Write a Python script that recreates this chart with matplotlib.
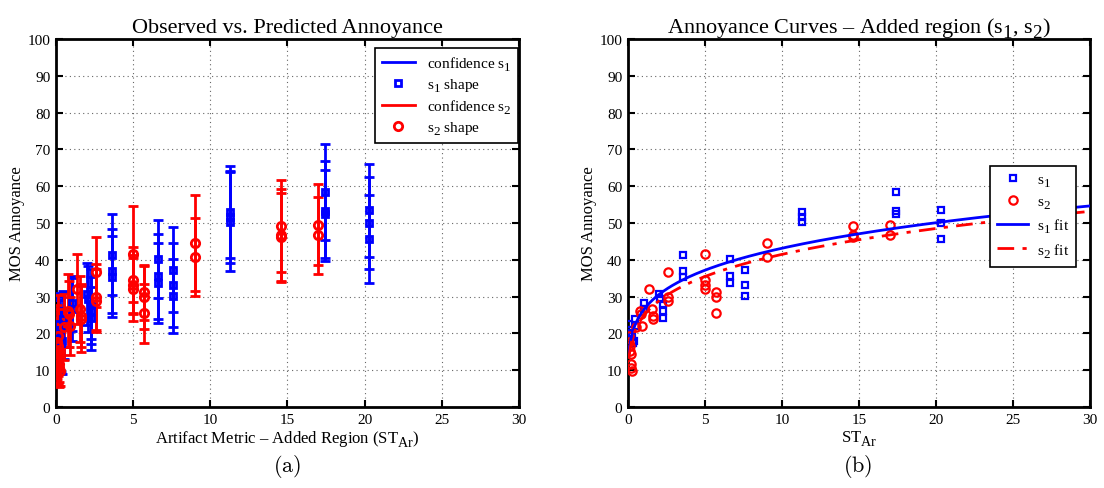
import numpy as np
import matplotlib
matplotlib.use("Agg")
import matplotlib.pyplot as plt
from matplotlib.lines import Line2D
try:
    import matplotlib._mathtext as _mt
    _mt.SHRINK_FACTOR = 0.85
    _mt.FontConstantsBase.sub1 = 0.55
    _mt.FontConstantsBase.sub2 = 0.6
except Exception:
    pass

plt.rcParams['font.family'] = ['Liberation Serif', 'DejaVu Serif']
plt.rcParams['mathtext.fontset'] = 'custom'
plt.rcParams['mathtext.rm'] = 'Liberation Serif'
plt.rcParams['mathtext.it'] = 'Liberation Serif:italic'

# ---- data ----
s1_x = [0.10, 0.13, 0.18, 0.25, 0.30, 0.40, 0.45, 0.50, 1.04, 1.04, 2.00, 2.05, 2.30, 2.30, 2.30,
        3.60, 3.60, 3.60, 6.60, 6.60, 6.60, 7.60, 7.60, 7.60, 11.3, 11.3, 11.3,
        17.4, 17.4, 17.4, 20.3, 20.3, 20.3]
s1_y = [22.5, 21.0, 20.0, 19.5, 17.5, 18.0, 23.9, 22.0, 28.2, 26.5, 30.7, 29.3, 28.0, 26.2, 24.1,
        41.4, 37.0, 35.4, 40.2, 35.5, 33.7, 37.3, 33.2, 30.2, 53.1, 51.5, 50.4,
        58.4, 53.3, 52.4, 53.4, 50.0, 45.6]
s1_err = [8.5, 9, 9, 9.5, 8, 9, 7.5, 9, 7.5, 8.5, 8.5, 9, 9.5, 9, 8.5,
          11, 11.5, 11, 10.5, 11.5, 11, 11.5, 11.5, 10, 12.5, 12.5, 13.5,
          13, 13.5, 12, 12.5, 12.5, 12]

s2_x = [0.08, 0.10, 0.12, 0.15, 0.18, 0.20, 0.22, 0.25, 0.50, 0.80, 0.85, 0.90,
        1.36, 1.55, 1.60, 1.65, 2.60, 2.60, 2.60, 5.0, 5.0, 5.0, 5.0, 5.7, 5.7, 5.7,
        9.0, 9.0, 14.6, 14.6, 14.6, 17.0, 17.0]
s2_y = [17.7, 19.4, 16.6, 15.2, 14.4, 11.7, 10.6, 9.8, 21.7, 26.2, 25.3, 22.0,
        32.1, 26.6, 24.8, 23.9, 36.6, 29.8, 28.9, 41.5, 34.5, 33.2, 32.0, 31.2, 29.8, 25.5,
        44.6, 40.8, 49.1, 46.8, 46.1, 49.5, 46.7]
s2_err = [10, 11, 10, 9, 9, 5, 5, 4, 9, 10, 9, 8,
          9.5, 9, 8.5, 9, 9.5, 9, 8.5, 13, 9, 8, 8.5, 7.5, 8.5, 8,
          13, 10.5, 12.5, 12.5, 12, 11, 10.5]

# power-law fit parameters y = a * x^b
s1_fit_a, s1_fit_b = 26.3, 0.215
s2_fit_a, s2_fit_b = 24.65, 0.226

x_ticks = [0, 5, 10, 15, 20, 25, 30]
y_ticks = [0, 10, 20, 30, 40, 50, 60, 70, 80, 90, 100]

BLUE = '#0000ff'
RED = '#ff0000'

fig = plt.figure(figsize=(11.04, 4.89), dpi=100)
axL = fig.add_axes([0.0507, 0.1656, 0.4194, 0.7526])
axR = fig.add_axes([0.5688, 0.1656, 0.4185, 0.7526])


def style(ax):
    ax.set_xlim(0, 30)
    ax.set_ylim(0, 100)
    ax.set_xticks(x_ticks)
    ax.set_yticks(y_ticks)
    ax.grid(True, color='#666666', linestyle=(0, (1, 3)), linewidth=0.8)
    ax.set_axisbelow(True)
    ax.tick_params(direction='in', top=True, right=True, length=5, width=1.5,
                   labelsize=11, pad=4)
    for sp in ax.spines.values():
        sp.set_linewidth(2)
    ax.set_ylabel('MOS Annoyance', fontsize=12, labelpad=2)


# ---- left panel ----
style(axL)
axL.errorbar(s1_x, s1_y, yerr=s1_err, fmt='s', color=BLUE, ecolor=BLUE,
             elinewidth=2, capsize=3.5, capthick=2, markersize=5,
             markerfacecolor='none', markeredgewidth=2.0, zorder=3)
axL.errorbar(s2_x, s2_y, yerr=s2_err, fmt='o', color=RED, ecolor=RED,
             elinewidth=2, capsize=3.5, capthick=2, markersize=6,
             markerfacecolor='none', markeredgewidth=2.0, zorder=3)
axL.set_title('Observed vs. Predicted Annoyance', fontsize=16, pad=5)
axL.set_xlabel(r'Artifact Metric – Added Region (ST$_{\mathrm{Ar}}$)', fontsize=12, labelpad=2)
hL = [Line2D([], [], color=BLUE, lw=2),
      Line2D([], [], color=BLUE, marker='s', ls='none', markersize=5, mfc='none', mew=2),
      Line2D([], [], color=RED, lw=2),
      Line2D([], [], color=RED, marker='o', ls='none', markersize=6, mfc='none', mew=2)]
legL = axL.legend(hL, [r'confidence s$_{\mathrm{1}}$', r's$_{\mathrm{1}}$ shape',
                       r'confidence s$_{\mathrm{2}}$', r's$_{\mathrm{2}}$ shape'],
                  loc='upper right', bbox_to_anchor=(0.998, 0.975), fontsize=11,
                  frameon=True, fancybox=False, edgecolor='black', framealpha=1,
                  borderaxespad=0, handlelength=2.2, labelspacing=0.2, borderpad=0.4)
legL.get_frame().set_linewidth(1.2)
fig.text(0.2604, 0.045, r'$\mathrm{(a)}$', ha='center', va='center', fontsize=16,
         math_fontfamily='cm')

# ---- right panel ----
style(axR)
xx = np.linspace(0.07, 30, 600)
axR.plot(s1_x, s1_y, 's', color=BLUE, markersize=5, mfc='none', mew=1.6, zorder=3)
axR.plot(s2_x, s2_y, 'o', color=RED, markersize=6, mfc='none', mew=1.6, zorder=3)
axR.plot(xx, s1_fit_a * xx ** s1_fit_b, '-', color=BLUE, lw=2, zorder=4)
axR.plot(xx, s2_fit_a * xx ** s2_fit_b, color=RED, lw=2, ls=(0, (6, 3, 1.5, 3)), zorder=4)
axR.set_title(r'Annoyance Curves – Added region (s$_{\mathrm{1}}$, s$_{\mathrm{2}}$)', fontsize=16, pad=5)
axR.set_xlabel(r'ST$_{\mathrm{Ar}}$', fontsize=12, labelpad=2)
hR = [Line2D([], [], color=BLUE, marker='s', ls='none', markersize=5, mfc='none', mew=1.6),
      Line2D([], [], color=RED, marker='o', ls='none', markersize=6, mfc='none', mew=1.6),
      Line2D([], [], color=BLUE, lw=2),
      Line2D([], [], color=RED, lw=2, ls=(0, (6, 3, 1.5, 3)))]
legR = axR.legend(hR, [r's$_{\mathrm{1}}$', r's$_{\mathrm{2}}$',
                       r's$_{\mathrm{1}}$ fit', r's$_{\mathrm{2}}$ fit'],
                  loc='upper right', bbox_to_anchor=(0.97, 0.655), fontsize=11,
                  frameon=True, fancybox=False, edgecolor='black', framealpha=1,
                  borderaxespad=0, handlelength=2.0, labelspacing=0.35, borderpad=0.45,
                  handletextpad=0.6)
legR.get_frame().set_linewidth(1.2)
fig.text(0.7772, 0.045, r'$\mathrm{(b)}$', ha='center', va='center', fontsize=16,
         math_fontfamily='cm')

fig.savefig('out.png', dpi=100)
